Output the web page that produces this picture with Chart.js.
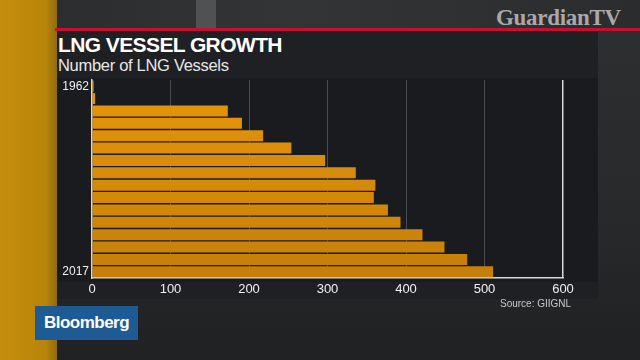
<!DOCTYPE html>
<html>
<head>
<meta charset="utf-8">
<script src="https://cdn.jsdelivr.net/npm/chart.js@4"></script>
<style>
  html, body { margin: 0; padding: 0; }
  body {
    width: 640px; height: 360px; overflow: hidden; position: relative;
    background: linear-gradient(180deg, #2e2f31 0%, #28292b 60%, #202123 100%);
    font-family: "Liberation Sans", Arial, sans-serif;
  }
  .strip { position: absolute; left: 0; top: 0; width: 57px; height: 360px;
    background: linear-gradient(90deg, #c48e0c 0%, #b9850a 80%, #8f6a10 100%); }
  .topband { position: absolute; left: 57px; top: 0; width: 583px; height: 29px;
    background: linear-gradient(90deg, #2c2d2f 0%, #333436 40%, #2b2c2e 100%); }
  .lightbar { position: absolute; left: 196px; top: 0; width: 20px; height: 29px; background: #505153; }
  .red { position: absolute; left: 55px; top: 28px; width: 585px; height: 3px; background: #c8102e; }
  .panel { position: absolute; left: 57px; top: 31px; width: 541px; height: 268px; background: #1f2023; }
  .plotbg { position: absolute; left: 57px; top: 78px; width: 541px; height: 204px; background: #1a1b1e; }
  .gtv { position: absolute; left: 496px; top: 5px; font-family: "Liberation Serif", "DejaVu Serif", serif;
    font-weight: bold; font-size: 23px; color: #a9a9ab; letter-spacing: -0.3px; }
  .title { position: absolute; left: 58px; top: 33px; color: #fff; font-weight: bold; font-size: 21px;
    letter-spacing: -0.6px; }
  .sub { position: absolute; left: 58px; top: 56px; color: #e8e8e8; font-size: 16.5px; letter-spacing: -0.3px; }
  .source { position: absolute; left: 500px; top: 298px; color: #c8c8c8; font-size: 10px; }
  .logo { position: absolute; left: 35px; top: 306px; width: 103px; height: 34px; background: #1e5b94;
    color: #fff; font-size: 17px; font-weight: bold; line-height: 34px; text-align: center;
    letter-spacing: -0.5px; }
  canvas { position: absolute; left: 0; top: 0; }
</style>
</head>
<body>
<div class="strip"></div>
<div class="topband"></div>
<div class="lightbar"></div>
<div class="red"></div>
<div class="gtv">GuardianTV</div>
<div class="panel"></div>
<div class="plotbg"></div>
<div class="title">LNG VESSEL GROWTH</div>
<div class="sub">Number of LNG Vessels</div>
<canvas id="chart" width="640" height="360"></canvas>
<div class="source">Source: GIIGNL</div>
<div class="logo">Bloomberg</div>
<script>
// only the first and last year are labelled in the source
const years = ['1962', '', '', '', '', '', '', '', '', '', '', '', '', '', '', '2017'];
const vessels = [2, 4, 173, 191, 218, 254, 297, 336, 361, 359, 377, 393, 421, 449, 478, 511];
const xTicks = [0, 100, 200, 300, 400, 500, 600];

const ctx = document.getElementById('chart').getContext('2d');

function barFill(context) {
  const area = context.chart.chartArea;
  if (!area) return '#e0900a';
  const g = context.chart.ctx.createLinearGradient(0, area.top, 0, area.bottom);
  g.addColorStop(0, '#e8960a');
  g.addColorStop(1, '#c57f08');
  return g;
}

new Chart(ctx, {
  type: 'bar',
  data: {
    labels: years,
    datasets: [{
      data: vessels,
      backgroundColor: barFill,
      borderWidth: 0,
      categoryPercentage: 0.88,
      barPercentage: 1
    }]
  },
  options: {
    indexAxis: 'y',
    responsive: false,
    animation: false,
    layout: { padding: { left: 55, right: 77, top: 80, bottom: 0 } },
    plugins: { legend: { display: false }, tooltip: { enabled: false } },
    scales: {
      x: {
        min: 0,
        max: 600,
        afterBuildTicks: s => { s.ticks = xTicks.map(v => ({ value: v })); },
        afterFit: s => { s.height = 82; },
        grid: {
          color: c => c.tick && c.tick.value === 600 ? '#d8d8d8' : '#4a4b4e',
          lineWidth: c => c.tick && c.tick.value === 600 ? 1.5 : 1,
          drawTicks: false
        },
        border: { color: '#d8d8d8', width: 1.5 },
        ticks: { color: '#f0f0f0', padding: 4, font: { family: 'Liberation Sans', size: 13 } }
      },
      y: {
        afterFit: s => { s.width = 37; },
        grid: { display: false, drawTicks: false },
        border: { color: '#d8d8d8', width: 1.5 },
        ticks: { color: '#f0f0f0', padding: 3, autoSkip: false, font: { family: 'Liberation Sans', size: 12 } }
      }
    }
  }
});
</script>
</body>
</html>
